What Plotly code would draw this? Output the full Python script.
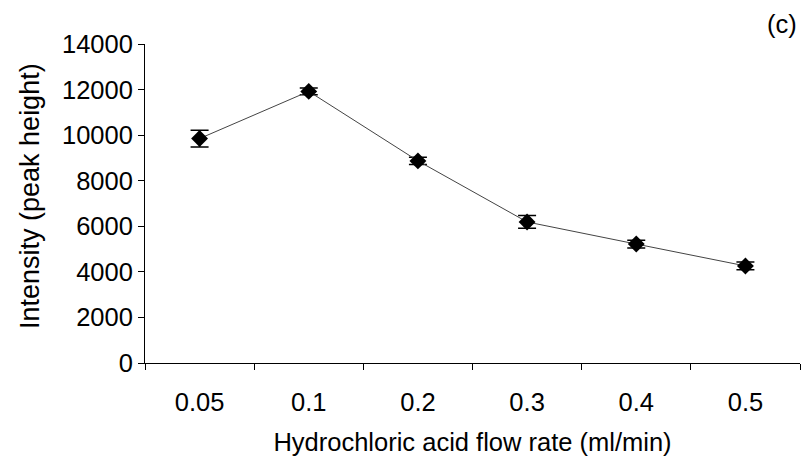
import plotly.graph_objects as go

categories = ["0.05", "0.1", "0.2", "0.3", "0.4", "0.5"]
intensity = [9850, 11920, 8870, 6190, 5220, 4260]
errors = [370, 150, 160, 280, 170, 170]
y_ticks = [0, 2000, 4000, 6000, 8000, 10000, 12000, 14000]

fig = go.Figure()
fig.add_trace(go.Scatter(
    x=categories, y=intensity,
    mode="lines+markers",
    line=dict(color="#444444", width=1),
    marker=dict(symbol="diamond", size=13, color="black"),
    error_y=dict(type="data", array=errors, visible=True, color="black", thickness=1.5, width=9),
    showlegend=False,
))

font = dict(family="Liberation Sans, Arial, sans-serif", size=25.5, color="black")
ytitle_font = dict(family="Liberation Sans, Arial, sans-serif", size=27, color="black")

pw = 806 - 145 - 6
ph = 465 - 44 - 102

fig.update_layout(
    width=806, height=465,
    margin=dict(l=145, r=6, t=44, b=102),
    paper_bgcolor="white", plot_bgcolor="white",
    font=font,
    xaxis=dict(
        type="category", range=[-0.5, 5.5], tickson="boundaries",
        showline=True, linecolor="black", linewidth=1,
        ticks="outside", ticklen=6, tickcolor="black",
        showgrid=False, zeroline=False,
        ticklabelstandoff=16,
        title=dict(text="Hydrochloric acid flow rate (ml/min)", font=font, standoff=18),
    ),
    yaxis=dict(
        range=[0, 14000], tickvals=y_ticks, tickformat="d",
        showline=True, linecolor="black", linewidth=1,
        ticks="outside", ticklen=6, tickcolor="black",
        showgrid=False, zeroline=False,
    ),
    annotations=[
        dict(text="(c)", showarrow=False, xref="paper", yref="paper",
             x=(782 - 145) / pw, y=(465 - 102 - 24) / ph,
             xanchor="center", yanchor="middle", font=font),
        dict(text="Intensity (peak height)", showarrow=False, xref="paper", yref="paper",
             x=(30 - 145) / pw, y=(465 - 102 - 196) / ph, textangle=-90,
             xanchor="center", yanchor="middle", font=ytitle_font),
    ],
)

fig.write_html("out.html")
